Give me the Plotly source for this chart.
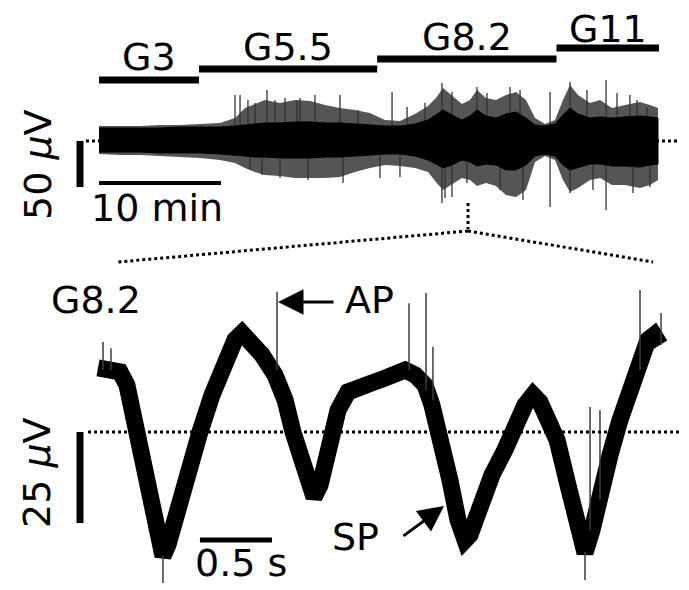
import plotly.graph_objects as go

# ---------------- data ----------------
# Top: long extracellular recording, envelope (time in min, amplitude in µV)
env_t = [0.00, 1.72, 3.36, 5.00, 6.64, 8.28, 9.92, 11.15, 11.97, 12.79, 13.61, 14.84, 16.07, 17.30,
         18.52, 19.75, 20.98, 22.21, 23.44, 24.67, 25.90, 26.97, 27.62, 28.20, 28.93, 29.75, 30.41,
         30.98, 31.72, 32.54, 33.36, 34.18, 35.00, 35.74, 36.56, 37.38, 38.03, 38.61, 39.26, 40.25,
         41.07, 42.05, 43.11, 44.34, 45.16, 45.82]
core_hi = [14.1, 14.1, 14.1, 14.1, 15.2, 15.2, 15.2, 16.3, 17.4, 18.5, 19.6, 19.6, 20.7, 20.7,
           19.6, 19.6, 18.5, 17.4, 16.3, 16.3, 18.5, 22.8, 28.3, 33.7, 28.3, 22.8, 27.2,
           33.7, 27.2, 25.0, 29.3, 31.5, 25.0, 17.4, 16.3, 18.5, 28.3, 35.9, 29.3, 25.0,
           26.1, 25.0, 26.1, 27.2, 26.1, 25.0]
core_lo = [-12.0, -12.0, -12.0, -13.0, -13.0, -13.0, -14.1, -15.2, -16.3, -17.4, -17.4, -18.5, -18.5, -18.5,
           -17.4, -17.4, -16.3, -15.2, -14.1, -14.1, -16.3, -20.7, -25.0, -29.3, -26.1, -20.7, -22.8,
           -27.2, -25.0, -26.1, -31.5, -31.5, -26.1, -16.3, -14.1, -16.3, -26.1, -31.5, -29.3, -25.0,
           -25.0, -27.2, -27.2, -28.3, -26.1, -25.0]
outer_hi = [16.3, 16.3, 16.3, 17.4, 17.4, 18.5, 19.6, 25.0, 35.9, 40.2, 44.6, 41.3, 44.6, 43.5,
            39.1, 35.9, 33.7, 30.4, 22.8, 21.7, 29.3, 38.0, 46.7, 57.6, 48.9, 40.2, 44.6,
            55.4, 46.7, 44.6, 50.0, 53.3, 44.6, 25.0, 18.5, 22.8, 44.6, 60.9, 50.0, 41.3,
            44.6, 35.9, 39.1, 42.4, 39.1, 35.9]
outer_lo = [-14.1, -15.2, -15.2, -16.3, -17.4, -18.5, -20.7, -23.9, -29.3, -33.7, -37.0, -38.0, -40.2, -40.2,
            -40.2, -39.1, -33.7, -29.3, -26.1, -27.2, -29.3, -33.7, -44.6, -53.3, -46.7, -40.2, -42.4,
            -48.9, -45.7, -48.9, -58.7, -60.9, -53.3, -22.8, -16.3, -20.7, -42.4, -55.4, -51.1, -42.4,
            -40.2, -47.8, -47.8, -51.1, -47.8, -42.4]
spike_t = [11.15, 11.56, 12.21, 12.38, 12.79, 13.36, 13.77, 14.43, 14.84, 15.25, 16.23, 16.48,
           17.13, 17.70, 19.75, 20.00, 21.23, 23.03, 24.02, 24.67, 25.25, 26.72, 28.11, 28.36,
           28.93, 30.16, 30.98, 31.80, 32.87, 33.69, 34.51, 34.75, 36.97, 38.61, 40.00, 40.49,
           41.56, 42.46, 43.52, 43.77, 44.10, 44.92, 45.16]
spike_hi = [50.0, 50.0, 44.6, 0.0, 41.3, 0.0, 55.4, 44.6, 0.0, 46.7, 44.6, 46.7,
            0.0, 50.0, 50.0, 0.0, 33.7, 0.0, 53.3, 0.0, 37.0, 41.3, 63.0, 0.0,
            53.3, 0.0, 58.7, 52.2, 0.0, 58.7, 55.4, 0.0, 53.3, 64.1, 55.4, 0.0,
            66.3, 52.2, 50.0, 0.0, 44.6, 37.0, 0.0]
spike_lo = [0.0, 0.0, 0.0, -31.5, 0.0, -37.0, 0.0, 0.0, -40.2, 0.0, 0.0, 0.0,
            -42.4, 0.0, 0.0, -45.7, 0.0, -40.2, 0.0, -39.1, 0.0, 0.0, -67.4, -62.0,
            -60.9, -45.7, 0.0, 0.0, -53.3, 0.0, 0.0, -64.1, -71.7, -56.5, 0.0, -53.3,
            -75.0, 0.0, 0.0, -56.5, 0.0, 0.0, -50.0]

cond_labels = ["G3", "G5.5", "G8.2", "G11"]
cond_start = [0.0, 8.2, 22.8, 37.5]
cond_end = [8.2, 22.8, 37.5, 45.9]
zoom_at_min = 30.25

# Bottom: expanded segment in G8.2 (time in s, amplitude in µV)
sp_t = [0.000, 0.083, 0.153, 0.201, 0.236, 0.292, 0.361, 0.417, 0.451, 0.486, 0.556, 0.639, 0.708,
        0.792, 0.882, 0.951, 1.000, 1.056, 1.139, 1.229, 1.299, 1.354, 1.417, 1.472, 1.500, 1.542,
        1.611, 1.667, 1.736, 1.819, 1.903, 1.993, 2.063, 2.132, 2.201, 2.271, 2.319, 2.375, 2.444,
        2.500, 2.549, 2.583, 2.653, 2.736, 2.826, 2.896, 2.965, 3.021, 3.069, 3.125, 3.188, 3.264,
        3.333, 3.382, 3.431, 3.486, 3.556, 3.625, 3.694, 3.764, 3.819, 3.861, 3.903]
sp_v = [17.6, 17.0, 16.5, 12.9, 6.0, -3.6, -18.7, -29.7, -34.1, -31.0, -20.1, -7.7, 0.0,
        10.2, 19.8, 25.3, 27.2, 25.3, 21.2, 15.7, 8.8, 0.0, -9.1, -15.9, -17.9, -14.6,
        -3.6, 6.0, 11.0, 12.9, 13.5, 14.8, 16.5, 17.0, 15.7, 12.9, 7.4, 0.0, -13.2,
        -24.2, -29.7, -28.3, -20.1, -11.8, -4.9, 1.9, 7.4, 10.2, 8.2, 3.3, -2.2, -14.6,
        -26.9, -33.2, -26.9, -15.9, -6.3, 3.3, 11.5, 18.4, 25.3, 26.6, 23.9]
ap_t = [0.035, 0.090, 1.243, 2.160, 2.278, 2.326, 3.417, 3.486, 3.764, 3.910, 0.451, 3.382]
ap_base = [17.0, 17.0, 17.0, 17.0, 11.5, 8.8, -26.9, -18.7, 17.0, 23.9, -34.0, -33.0]
ap_tip = [24.7, 23.0, 38.5, 35.4, 38.2, 23.4, 6.9, 6.0, 39.0, 32.7, -41.5, -40.7]

scale_top_min = 10
scale_top_uv = 50
scale_bot_s = 0.5
scale_bot_uv = 25
scale_bot_start_s = 0.708

# ---------------- layout constants (pixels) ----------------
W, H = 689, 590
TX0, TPXM, TY0, TPXU = 99, 12.2, 141, 0.92
BX0, BPXS, BY0, BPXU = 98, 144.0, 432, 3.64
FONT = "DejaVu Sans"
FS = 38


def px(x):
    return x / W


def py(y):
    return 1 - y / H


fig = go.Figure()

# top trace: outer envelope, spikes, core band
fig.add_trace(go.Scatter(x=env_t + env_t[::-1], y=outer_hi + outer_lo[::-1], fill="toself",
                         fillcolor="rgb(85,85,85)", line=dict(width=0), mode="lines",
                         hoverinfo="skip", showlegend=False, xaxis="x", yaxis="y"))
sx, sy = [], []
for t, hi, lo in zip(spike_t, spike_hi, spike_lo):
    sx += [t, t, None]
    sy += [lo, hi, None]
fig.add_trace(go.Scatter(x=sx, y=sy, mode="lines", line=dict(width=1.3, color="rgb(50,50,50)"),
                         hoverinfo="skip", showlegend=False, xaxis="x", yaxis="y"))
fig.add_trace(go.Scatter(x=env_t + env_t[::-1], y=core_hi + core_lo[::-1], fill="toself",
                         fillcolor="black", line=dict(width=1, color="black"), mode="lines",
                         hoverinfo="skip", showlegend=False, xaxis="x", yaxis="y"))

# bottom trace
fig.add_trace(go.Scatter(x=sp_t, y=sp_v, mode="lines", line=dict(width=17, color="black"),
                         hoverinfo="skip", showlegend=False, xaxis="x2", yaxis="y2"))
ax_, ay_ = [], []
for t, b, tp in zip(ap_t, ap_base, ap_tip):
    ax_ += [t, t, None]
    ay_ += [b, tp, None]
fig.add_trace(go.Scatter(x=ax_, y=ay_, mode="lines", line=dict(width=1.5, color="rgb(60,60,60)"),
                         hoverinfo="skip", showlegend=False, xaxis="x2", yaxis="y2"))

shapes = []
# dotted baselines
shapes.append(dict(type="line", xref="paper", yref="y", x0=px(86), x1=px(680), y0=0, y1=0,
                   line=dict(color="black", width=3, dash="dot"), layer="below"))
shapes.append(dict(type="line", xref="paper", yref="y2", x0=px(88), x1=px(680), y0=0, y1=0,
                   line=dict(color="black", width=3, dash="dot"), layer="above"))
# condition bars
bar_y = [80, 69, 59, 48]
for s, e, yy in zip(cond_start, cond_end, bar_y):
    shapes.append(dict(type="line", xref="x", yref="paper", x0=s, x1=e, y0=py(yy), y1=py(yy),
                       line=dict(color="black", width=7)))
# scale bars
shapes.append(dict(type="line", xref="x", yref="paper", x0=0, x1=scale_top_min, y0=py(183), y1=py(183),
                   line=dict(color="black", width=4)))
shapes.append(dict(type="line", xref="paper", yref="y", x0=px(80), x1=px(80), y0=0, y1=-scale_top_uv,
                   line=dict(color="black", width=7)))
shapes.append(dict(type="line", xref="x2", yref="paper", x0=scale_bot_start_s,
                   x1=scale_bot_start_s + scale_bot_s, y0=py(540), y1=py(540),
                   line=dict(color="black", width=5)))
shapes.append(dict(type="line", xref="paper", yref="y2", x0=px(80), x1=px(80), y0=0, y1=-scale_bot_uv,
                   line=dict(color="black", width=7)))
# zoom indicator
shapes.append(dict(type="line", xref="x", yref="paper", x0=zoom_at_min, x1=zoom_at_min, y0=py(203), y1=py(229),
                   line=dict(color="black", width=3, dash="dot")))
shapes.append(dict(type="line", xref="paper", yref="paper", x0=px(468), x1=px(118), y0=py(231), y1=py(262),
                   line=dict(color="black", width=3, dash="dot")))
shapes.append(dict(type="line", xref="paper", yref="paper", x0=px(468), x1=px(653), y0=py(231), y1=py(262),
                   line=dict(color="black", width=3, dash="dot")))

annotations = []


def txt(text, x, y, angle=0):
    annotations.append(dict(text=text, x=px(x), y=py(y), xref="paper", yref="paper", showarrow=False,
                            xanchor="center", yanchor="middle", textangle=angle,
                            font=dict(family=FONT, size=FS, color="black")))


lab_y = [57, 47, 37, 29]
for lab, s, e, yy in zip(cond_labels, cond_start, cond_end, lab_y):
    cx = TX0 + TPXM * (s + e) / 2
    txt(lab, cx, yy)
txt(f"{scale_top_min} min", 157, 208)
txt(f"{scale_top_uv} <i>µ</i>V", 38, 165, -90)
txt("G8.2", 96, 300)
txt("AP", 369, 300)
txt("SP", 355, 537)
txt(f"{scale_bot_s} s", 241, 563)
txt(f"{scale_bot_uv} <i>µ</i>V", 37, 473, -90)

# arrows
annotations.append(dict(text="", x=px(278), y=py(302), xref="paper", yref="paper", showarrow=True,
                        ax=57, ay=0, arrowhead=2, arrowsize=1.7, arrowwidth=3, arrowcolor="black", standoff=0))
annotations.append(dict(text="", x=px(444), y=py(506), xref="paper", yref="paper", showarrow=True,
                        ax=-42, ay=31, arrowhead=2, arrowsize=1.7, arrowwidth=3, arrowcolor="black", standoff=0))

fig.update_layout(
    width=W, height=H, margin=dict(l=0, r=0, t=0, b=0),
    paper_bgcolor="white", plot_bgcolor="rgba(0,0,0,0)",
    xaxis=dict(domain=[0, 1], range=[-TX0 / TPXM, (W - TX0) / TPXM], visible=False, fixedrange=True),
    yaxis=dict(domain=[0, 1], range=[-(H - TY0) / TPXU, TY0 / TPXU], visible=False, fixedrange=True),
    xaxis2=dict(domain=[0, 1], anchor="y2", range=[-BX0 / BPXS, (W - BX0) / BPXS], visible=False, fixedrange=True),
    yaxis2=dict(domain=[0, 1], anchor="x2", range=[-(H - BY0) / BPXU, BY0 / BPXU], visible=False, fixedrange=True),
    shapes=shapes, annotations=annotations, showlegend=False,
)

fig.write_html("out.html", config={"displayModeBar": False},
               post_script="document.body.style.margin='0';document.body.style.overflow='hidden';")
